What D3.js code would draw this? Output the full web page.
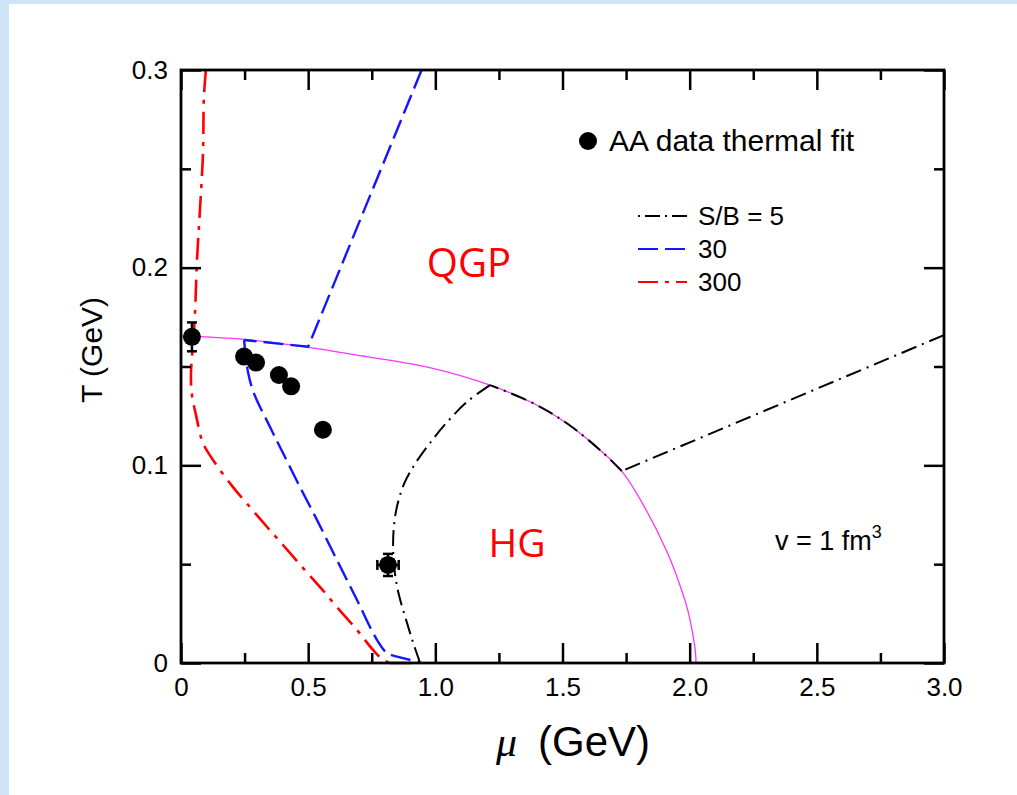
<!DOCTYPE html>
<html>
<head>
<meta charset="utf-8">
<script src="https://cdn.jsdelivr.net/npm/d3@7/dist/d3.min.js"></script>
<style>
	html, body { margin: 0; padding: 0; background: #ffffff; }
	svg { display: block; }
	text { font-family: "Liberation Sans", Arial, sans-serif; fill: #000; }
</style>
</head>
<body>
<div id="chart"></div>
<script>
//坐标轴刻度
var muTicks = [0, 0.5, 1.0, 1.5, 2.0, 2.5, 3.0];
var muTickLabels = ["0", "0.5", "1.0", "1.5", "2.0", "2.5", "3.0"];
var muMinor = [0.25, 0.75, 1.25, 1.75, 2.25, 2.75];
var tTicks = [0, 0.1, 0.2, 0.3];
var tTickLabels = ["0", "0.1", "0.2", "0.3"];
var tMinor = [0.05, 0.15, 0.25];

//热模型拟合数据点
var dataMu = [0.043, 0.248, 0.295, 0.385, 0.433, 0.558, 0.814];
var dataT = [0.165, 0.155, 0.152, 0.1457, 0.140, 0.118, 0.0496];
var dataMuErr = [0, 0, 0, 0, 0, 0, 0.042];
var dataTErr = [0.0073, 0, 0, 0, 0, 0, 0.0056];

//相边界 (粉色)
var boundary = [[0, 0.1655], [0.25, 0.1637], [0.50, 0.1597], [0.73, 0.155], [0.99, 0.1491],
	[1.215, 0.1406], [1.385, 0.1314], [1.517, 0.1213], [1.647, 0.1078], [1.733, 0.0971],
	[1.82, 0.0795], [1.91, 0.0565], [1.96, 0.040], [1.993, 0.0265], [2.013, 0.014], [2.023, 0.005], [2.025, 0]];

//S/B = 5, 30, 300 (分段; 0 = 折线, 1 = 平滑)
var sb5 = [
	[[3.0, 0.1659], [1.733, 0.0971]],
	[[1.733, 0.0971], [1.647, 0.1078], [1.517, 0.1213], [1.385, 0.1314], [1.215, 0.1406]],
	[[1.215, 0.1406], [1.128, 0.1325], [1.050, 0.1224], [0.979, 0.1113], [0.920, 0.1007], [0.877, 0.0906],
		[0.849, 0.079], [0.837, 0.0688], [0.834, 0.0587], [0.841, 0.0455], [0.857, 0.0344], [0.885, 0.0218],
		[0.912, 0.0106], [0.94, 0]]
];
var sb5Smooth = [0, 1, 1];
var sb30 = [
	[[0.946, 0.300], [0.50, 0.160], [0.248, 0.1634]],
	[[0.248, 0.1634], [0.255, 0.155], [0.263, 0.1475], [0.285, 0.137], [0.35, 0.1194], [0.401, 0.1062],
		[0.468, 0.089], [0.535, 0.0723], [0.613, 0.0521], [0.692, 0.0319], [0.771, 0.0116], [0.81, 0.0051],
		[0.873, 0.0025], [0.94, 0.0003]]
];
var sb30Smooth = [0, 1];
var sb300 = [
	[[0.098, 0.300], [0.090, 0.2863], [0.0865, 0.258], [0.0747, 0.2297], [0.0629, 0.2039], [0.055, 0.177],
		[0.047, 0.161], [0.039, 0.1457], [0.043, 0.1356], [0.059, 0.1254], [0.0865, 0.1113], [0.134, 0.1012],
		[0.2045, 0.089], [0.271, 0.0789], [0.342, 0.0683], [0.401, 0.0597], [0.480, 0.048], [0.547, 0.0384],
		[0.613, 0.0283], [0.692, 0.0167], [0.755, 0.0066], [0.795, 0.0015], [0.822, 0]],
	[[0.822, 0], [0.94, 0]]
];
var sb300Smooth = [1, 0];

var legendLabels = ["S/B = 5", "30", "300"];

var width = 1017, height = 795;
var padLeft = 181, padRight = 944, padTop = 70, padBottom = 663;

var svg = d3.select("#chart").append("svg")
	.attr("width", width)
	.attr("height", height);

//背景边框
svg.append("rect").attr("x", 0).attr("y", 0).attr("width", width).attr("height", 4).attr("fill", "#cfe3f9");
svg.append("rect").attr("x", 0).attr("y", 0).attr("width", 9).attr("height", height).attr("fill", "#cfe3f9");

var x = d3.scaleLinear().domain([0, 3]).range([padLeft, padRight]);
var y = d3.scaleLinear().domain([0, 0.3]).range([padBottom, padTop]);

var plot = svg.append("g");

var lineSmooth = d3.line()
	.x(function (d) { return x(d[0]); })
	.y(function (d) { return y(d[1]); })
	.curve(d3.curveCatmullRom.alpha(0.5));
var lineStraight = d3.line()
	.x(function (d) { return x(d[0]); })
	.y(function (d) { return y(d[1]); });

function drawSeries(segs, smooth, color, dash, w) {
	segs.forEach(function (seg, i) {
		plot.append("path")
			.attr("d", smooth[i] ? lineSmooth(seg) : lineStraight(seg))
			.attr("fill", "none")
			.attr("stroke", color)
			.attr("stroke-width", w)
			.attr("stroke-dasharray", dash);
	});
}

plot.append("path")
	.attr("d", lineSmooth(boundary))
	.attr("fill", "none")
	.attr("stroke", "#ff33ff")
	.attr("stroke-width", 1.3);

drawSeries(sb300, sb300Smooth, "#ff0000", "22,8,4,8", 2.6);
drawSeries(sb30, sb30Smooth, "#1515ff", "20,7", 2.4);
drawSeries(sb5, sb5Smooth, "#000000", "16,6,2,6", 2);

//误差棒
var pts = dataMu.map(function (m, i) {
	return {mu: m, t: dataT[i], em: dataMuErr[i], et: dataTErr[i]};
});
var errG = plot.append("g").attr("stroke", "#000").attr("stroke-width", 2.5);
pts.forEach(function (p) {
	var cx = x(p.mu), cy = y(p.t);
	if (p.et > 0) {
		var y1 = y(p.t + p.et), y2 = y(p.t - p.et);
		errG.append("line").attr("x1", cx).attr("x2", cx).attr("y1", y1).attr("y2", y2);
		errG.append("line").attr("x1", cx - 5).attr("x2", cx + 5).attr("y1", y1).attr("y2", y1);
		errG.append("line").attr("x1", cx - 5).attr("x2", cx + 5).attr("y1", y2).attr("y2", y2);
	}
	if (p.em > 0) {
		var x1 = x(p.mu - p.em), x2 = x(p.mu + p.em);
		errG.append("line").attr("x1", x1).attr("x2", x2).attr("y1", cy).attr("y2", cy);
		errG.append("line").attr("x1", x1).attr("x2", x1).attr("y1", cy - 5).attr("y2", cy + 5);
		errG.append("line").attr("x1", x2).attr("x2", x2).attr("y1", cy - 5).attr("y2", cy + 5);
	}
});
plot.selectAll("circle.pt")
	.data(pts)
	.enter().append("circle")
	.attr("class", "pt")
	.attr("cx", function (d) { return x(d.mu); })
	.attr("cy", function (d) { return y(d.t); })
	.attr("r", 9)
	.attr("fill", "#000");

//坐标轴 (刻度朝内)
function styleAxis(g) {
	g.select(".domain").remove();
	g.selectAll(".tick line").attr("stroke", "#000").attr("stroke-width", 2.5);
	g.selectAll(".tick text").style("font-size", "26px").attr("fill", "#000");
}

svg.append("g").attr("transform", "translate(0," + padBottom + ")")
	.call(d3.axisBottom(x).tickValues(muTicks).tickSize(-20).tickPadding(15)
		.tickFormat(function (d, i) { return muTickLabels[i]; }))
	.call(styleAxis);
svg.append("g").attr("transform", "translate(0," + padBottom + ")")
	.call(d3.axisBottom(x).tickValues(muMinor).tickSize(-10).tickFormat(""))
	.call(styleAxis);
svg.append("g").attr("transform", "translate(0," + padTop + ")")
	.call(d3.axisTop(x).tickValues(muTicks).tickSize(-20).tickFormat(""))
	.call(styleAxis);
svg.append("g").attr("transform", "translate(0," + padTop + ")")
	.call(d3.axisTop(x).tickValues(muMinor).tickSize(-10).tickFormat(""))
	.call(styleAxis);

svg.append("g").attr("transform", "translate(" + padLeft + ",0)")
	.call(d3.axisLeft(y).tickValues(tTicks).tickSize(-20).tickPadding(13)
		.tickFormat(function (d, i) { return tTickLabels[i]; }))
	.call(styleAxis);
svg.append("g").attr("transform", "translate(" + padLeft + ",0)")
	.call(d3.axisLeft(y).tickValues(tMinor).tickSize(-10).tickFormat(""))
	.call(styleAxis);
svg.append("g").attr("transform", "translate(" + padRight + ",0)")
	.call(d3.axisRight(y).tickValues(tTicks).tickSize(-20).tickFormat(""))
	.call(styleAxis);
svg.append("g").attr("transform", "translate(" + padRight + ",0)")
	.call(d3.axisRight(y).tickValues(tMinor).tickSize(-10).tickFormat(""))
	.call(styleAxis);

svg.append("rect")
	.attr("x", padLeft).attr("y", padTop)
	.attr("width", padRight - padLeft).attr("height", padBottom - padTop)
	.attr("fill", "none")
	.attr("stroke", "#000")
	.attr("stroke-width", 2.8);

//轴标题
svg.append("text")
	.attr("transform", "translate(102,350) rotate(-90)")
	.attr("text-anchor", "middle")
	.style("font-size", "30px")
	.text("T (GeV)");

var xt = svg.append("text")
	.attr("x", 496).attr("y", 756)
	.style("font-size", "42px");
xt.append("tspan").style("font-family", "'Liberation Serif', serif").style("font-style", "italic").text("μ");
xt.append("tspan").attr("x", 538).text("(GeV)");

//图例
svg.append("circle").attr("cx", 588).attr("cy", 141).attr("r", 9).attr("fill", "#000");
svg.append("text").attr("x", 609).attr("y", 151).style("font-size", "30px").text("AA data thermal fit");

var legColors = ["#000000", "#1515ff", "#ff0000"];
var legDash = ["2,5,15,5", "20,7", "20,7,4,7"];
var legY = [216, 249, 282];
legendLabels.forEach(function (lab, i) {
	svg.append("line")
		.attr("x1", 638).attr("x2", 687)
		.attr("y1", legY[i]).attr("y2", legY[i])
		.attr("stroke", legColors[i])
		.attr("stroke-width", 2.2)
		.attr("stroke-dasharray", legDash[i]);
	svg.append("text")
		.attr("x", 698).attr("y", legY[i] + 9)
		.style("font-size", "26px")
		.text(lab);
});

//区域标注
svg.append("text").attr("x", 469).attr("y", 277).attr("text-anchor", "middle")
	.style("font-family", "'Open Sans', sans-serif").style("font-size", "40px").style("fill", "#ff0000")
	.text("QGP");
svg.append("text").attr("x", 517).attr("y", 557).attr("text-anchor", "middle")
	.style("font-family", "'Open Sans', sans-serif").style("font-size", "39px").style("fill", "#ff0000")
	.text("HG");

var vt = svg.append("text").attr("x", 775).attr("y", 550).style("font-size", "27px");
vt.append("tspan").text("v = 1 fm");
vt.append("tspan").attr("dy", -12).style("font-size", "18px").text("3");
</script>
</body>
</html>
